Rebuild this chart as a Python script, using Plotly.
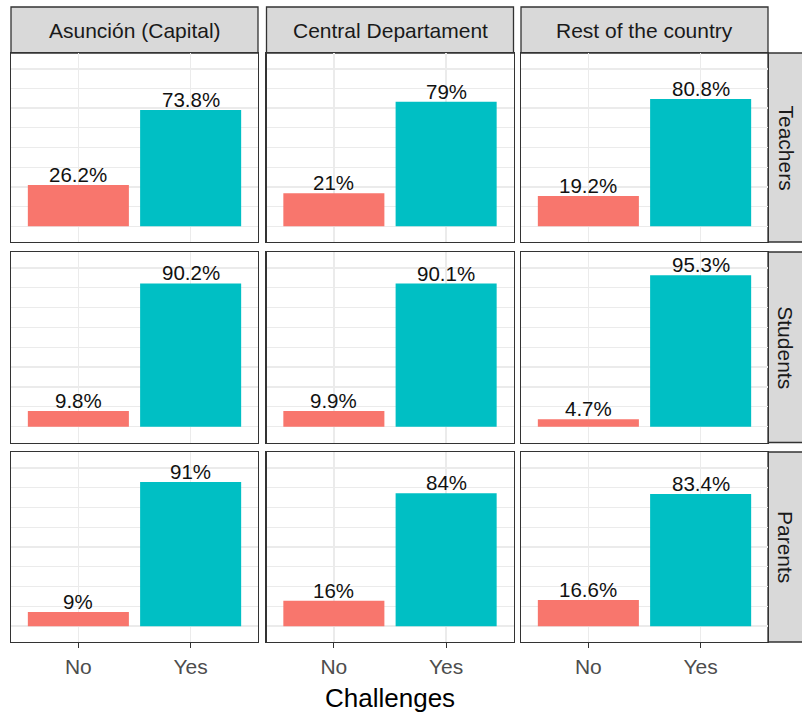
import plotly.graph_objects as go

# ---- data ----
regions = ["Asunción (Capital)", "Central Departament", "Rest of the country"]
groups = ["Teachers", "Students", "Parents"]
answers = ["No", "Yes"]
no_values = {
    "Teachers": [26.2, 21, 19.2],
    "Students": [9.8, 9.9, 4.7],
    "Parents": [9, 16, 16.6],
}
yes_values = {
    "Teachers": [73.8, 79, 80.8],
    "Students": [90.2, 90.1, 95.3],
    "Parents": [91, 84, 83.4],
}
answer_colors = {"No": "#F8766D", "Yes": "#00BFC4"}
x_title = "Challenges"

# ---- layout geometry (pixels) ----
W, H = 802, 715
col_px = [(11, 258), (266.5, 513.5), (521, 768)]
row_px = [(53, 242), (252, 442.5), (452, 642)]
strip_top = 7
strip_right = (768, 814)
FONT = "Liberation Sans, Arial, sans-serif"
BORDER = "#333333"
GRID = "#EBEBEB"


def px_x(v):
    return v / W


def px_y(v):
    return 1 - v / H


fig = go.Figure()
layout = dict(
    width=W, height=H, autosize=False,
    margin=dict(l=0, r=0, t=0, b=0),
    paper_bgcolor="white", plot_bgcolor="white",
    showlegend=False,
    font=dict(family=FONT),
    shapes=[], annotations=[],
)

for r, grp in enumerate(groups):
    for c, reg in enumerate(regions):
        idx = r * 3 + c + 1
        xa = "x" if idx == 1 else f"x{idx}"
        ya = "y" if idx == 1 else f"y{idx}"
        vals = [no_values[grp][c], yes_values[grp][c]]
        fig.add_trace(go.Bar(
            x=answers, y=vals, width=0.9,
            marker=dict(color=[answer_colors[a] for a in answers], line=dict(width=0)),
            xaxis=xa, yaxis=ya, hoverinfo="skip",
        ))
        for a, v in zip(answers, vals):
            layout["annotations"].append(dict(
                x=a, y=v, xref=xa, yref=ya, text=f"{v:g}%",
                showarrow=False, yanchor="bottom", xanchor="center", yshift=-3,
                font=dict(size=20.5, color="#111111", family=FONT),
            ))
        bottom = r == 2
        layout[f"xaxis{'' if idx == 1 else idx}"] = dict(
            domain=[px_x(col_px[c][0]), px_x(col_px[c][1])],
            anchor=ya, type="category", categoryorder="array", categoryarray=answers,
            range=[-0.6, 1.6],
            showgrid=True, gridcolor=GRID, gridwidth=1.5,
            showline=True, linecolor=BORDER, linewidth=1.3, mirror=True,
            ticks="outside" if bottom else "", ticklen=5, tickcolor=BORDER, tickwidth=1.2,
            showticklabels=bottom,
            tickfont=dict(size=21, color="#4D4D4D", family=FONT),
            fixedrange=True,
        )
        layout[f"yaxis{'' if idx == 1 else idx}"] = dict(
            domain=[px_y(row_px[r][1]), px_y(row_px[r][0])],
            anchor=xa, range=[-10, 110],
            tick0=0, dtick=25,
            showgrid=True, gridcolor=GRID, gridwidth=1.5,
            minor=dict(dtick=12.5, showgrid=True, gridcolor=GRID, gridwidth=1.2),
            zeroline=False,
            showline=True, linecolor=BORDER, linewidth=1.3, mirror=True,
            showticklabels=False, ticks="",
            fixedrange=True,
        )

# top strips
for c, reg in enumerate(regions):
    layout["shapes"].append(dict(
        type="rect", xref="paper", yref="paper",
        x0=px_x(col_px[c][0]), x1=px_x(col_px[c][1]),
        y0=px_y(row_px[0][0]), y1=px_y(strip_top),
        fillcolor="#D9D9D9", line=dict(color=BORDER, width=1.3), layer="below",
    ))
    layout["annotations"].append(dict(
        x=px_x((col_px[c][0] + col_px[c][1]) / 2), y=px_y((strip_top + row_px[0][0]) / 2),
        xref="paper", yref="paper", text=reg, showarrow=False,
        xanchor="center", yanchor="middle",
        font=dict(size=21, color="#1A1A1A", family=FONT),
    ))

# right strips
for r, grp in enumerate(groups):
    layout["shapes"].append(dict(
        type="rect", xref="paper", yref="paper",
        x0=px_x(strip_right[0]), x1=px_x(strip_right[1]),
        y0=px_y(row_px[r][1]), y1=px_y(row_px[r][0]),
        fillcolor="#D9D9D9", line=dict(color=BORDER, width=1.3), layer="below",
    ))
    layout["annotations"].append(dict(
        x=px_x(786), y=px_y((row_px[r][0] + row_px[r][1]) / 2),
        xref="paper", yref="paper", text=grp, showarrow=False, textangle=90,
        xanchor="center", yanchor="middle",
        font=dict(size=21, color="#1A1A1A", family=FONT),
    ))

# x axis title
layout["annotations"].append(dict(
    x=px_x((col_px[0][0] + col_px[2][1]) / 2), y=px_y(698),
    xref="paper", yref="paper", text=x_title, showarrow=False,
    xanchor="center", yanchor="middle",
    font=dict(size=26, color="#000000", family=FONT),
))

fig.update_layout(**layout)
fig.write_html(
    "out.html",
    config={"displayModeBar": False, "staticPlot": True},
    post_script="document.body.style.margin='0px';document.body.style.overflow='hidden';",
)
